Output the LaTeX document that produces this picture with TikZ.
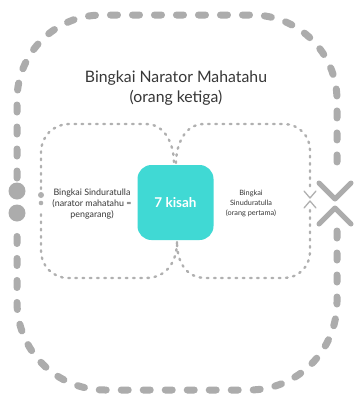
\documentclass[tikz,border=0pt]{standalone}
\usepackage{fontspec}
\setmainfont{Lato}
\definecolor{outergray}{RGB}{172,172,172}
\definecolor{innergray}{RGB}{176,176,176}
\definecolor{tealbox}{RGB}{64,217,212}
\definecolor{txt}{RGB}{55,55,55}
\tikzset{
  outerline/.style={draw=outergray, line width=7pt, line cap=round, dash pattern=on 7pt off 15pt},
  innerline/.style={draw=innergray, line width=2.4pt, line cap=round, dash pattern=on 1.6pt off 5.6pt},
  bigdot/.style={fill=outergray, draw=none},
  smalldot/.style={fill=innergray, draw=none},
  bigcross/.style={draw=outergray, line width=5pt, line cap=round, line join=round},
  smallcross/.style={draw=innergray, line width=1.3pt, line cap=round, line join=round},
  kisahbox/.style={fill=tealbox, draw=none, rounded corners=14pt, minimum width=76pt, minimum height=75pt, text=white, font=\bfseries\fontsize{13.5}{15}\selectfont},
  titletext/.style={text=txt, align=center, font=\fontsize{15.8}{19.5}\selectfont},
  sidetext/.style={text=txt, align=center, font=\fontsize{8.9}{10.8}\selectfont},
  sidetextr/.style={text=txt, align=center, font=\fontsize{7.3}{10}\selectfont}
}
\begin{document}
\begin{tikzpicture}[x=1pt,y=-1pt]
\useasboundingbox[fill=white] (0,0) rectangle (355,394);
% outer loop
\draw[outerline, rounded corners=85pt] (17,178) -- (17,15) -- (337,15) -- (337,176);
\draw[outerline, rounded corners=88pt] (337,231) -- (337,390) -- (17,390) -- (17,226);
\fill[bigdot] (17,191) circle (8.5pt);
\fill[bigdot] (17,213) circle (8.5pt);
\draw[bigcross] (319,183) -- (335,199) -- (351,183);
\draw[bigcross] (319,224) -- (335,208) -- (351,224);
% left inner loop
\draw[innerline] (41,189) -- (41,152) arc[start angle=180, end angle=90, radius=28pt] -- (146,124) .. controls (166,124) and (174,146) .. (174,163);
\draw[innerline] (177,242) .. controls (177,262) and (166,278) .. (146,278) -- (68,278) arc[start angle=270, end angle=180, radius=27pt] -- (41,209);
\fill[smalldot] (41,195) circle (3pt);
\fill[smalldot] (41,203) circle (2.3pt);
% right inner loop
\draw[innerline] (176,163) .. controls (176,146) and (184,124) .. (204,124) -- (284,124) arc[start angle=90, end angle=0, radius=26pt] -- (310,188);
\draw[innerline] (310,210) -- (310,252) arc[start angle=0, end angle=-90, radius=26pt] -- (206,278) .. controls (186,278) and (177,262) .. (177,242);
\draw[smallcross] (304,191) -- (310,198) -- (316,191);
\draw[smallcross] (304,208) -- (310,201) -- (316,208);
% central box
\node[kisahbox] (k) at (175.5,202.5) {7 kisah};
% texts
\node[titletext] (t) at (176,88) {Bingkai Narator Mahatahu\\(orang ketiga)};
\node[sidetext] (l) at (92,204) {Bingkai Sinduratulla\\(narator mahatahu =\\pengarang)};
\node[sidetextr] (r) at (251,203) {Bingkai\\Sinuduratulla\\(orang pertama)};
\end{tikzpicture}
\end{document}
